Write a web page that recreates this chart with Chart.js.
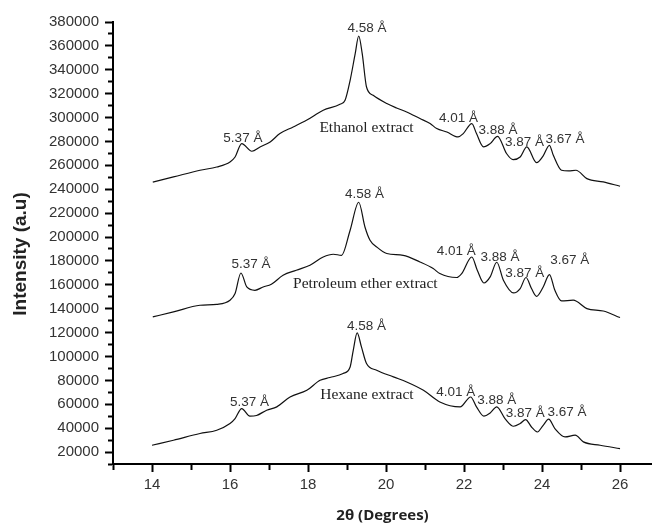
<!DOCTYPE html>
<html>
<head>
<meta charset="utf-8">
<script src="https://cdn.jsdelivr.net/npm/chart.js@4/dist/chart.umd.min.js"></script>
<style>
  html, body { margin: 0; padding: 0; background: #fff; }
  canvas { display: block; }
</style>
</head>
<body>
<canvas id="xrdChart" width="652" height="525"></canvas>
<script>
// 2θ positions and intensities
const ethanolTheta = [14.02, 14.55, 15.23, 15.66, 16.00, 16.13, 16.30, 16.56, 16.77, 17.03, 17.28, 17.62, 17.96, 18.39, 18.82, 18.95, 19.08, 19.21, 19.30, 19.39, 19.50, 19.67, 20.02, 20.27, 20.53, 20.87, 21.13, 21.30, 21.56, 21.85, 21.98, 22.20, 22.32, 22.50, 22.67, 22.86, 23.09, 23.26, 23.44, 23.61, 23.86, 24.03, 24.19, 24.29, 24.50, 24.68, 24.87, 25.15, 25.57, 26.00]
const ethanolIntensity = [246000, 250300, 255900, 258600, 262800, 267000, 278200, 271800, 275400, 279600, 286600, 292100, 297700, 306100, 311100, 314500, 331200, 353500, 368300, 353500, 325600, 318600, 311700, 308000, 304700, 299200, 295000, 290800, 287900, 283800, 286600, 295000, 286600, 275400, 278200, 284300, 269900, 264800, 267000, 275400, 262200, 268000, 276800, 268400, 255900, 255300, 255900, 248900, 246100, 242500]

const petroleumTheta = [14.02, 14.55, 15.23, 15.66, 16.00, 16.13, 16.28, 16.43, 16.64, 16.85, 17.06, 17.36, 17.70, 18.05, 18.39, 18.65, 18.86, 19.08, 19.30, 19.46, 19.59, 19.76, 20.02, 20.44, 20.87, 21.21, 21.38, 21.81, 21.94, 22.20, 22.34, 22.51, 22.67, 22.84, 23.01, 23.27, 23.44, 23.59, 23.73, 23.86, 24.03, 24.19, 24.33, 24.50, 24.80, 25.15, 25.57, 26.00]
const petroleumIntensity = [133100, 137300, 142900, 143700, 147100, 152700, 169900, 158200, 155400, 158200, 160500, 168000, 172200, 176400, 183300, 185600, 184700, 205700, 229100, 208400, 197300, 191700, 186200, 184700, 179100, 173600, 169400, 166100, 169400, 183300, 172200, 161500, 166600, 178900, 163800, 153200, 156900, 166100, 156900, 150400, 158200, 168600, 155400, 146500, 147100, 140100, 138100, 132600]

const hexaneTheta = [14.00, 14.55, 15.23, 15.66, 16.00, 16.13, 16.30, 16.51, 16.68, 16.94, 17.20, 17.54, 17.97, 18.31, 18.56, 18.90, 19.08, 19.16, 19.26, 19.37, 19.50, 19.76, 20.19, 20.53, 20.96, 21.38, 21.90, 22.17, 22.32, 22.51, 22.67, 22.84, 23.05, 23.27, 23.44, 23.58, 23.73, 23.88, 24.03, 24.17, 24.33, 24.59, 24.85, 25.06, 25.49, 26.00]
const hexaneIntensity = [25700, 29900, 35500, 38300, 43900, 48000, 56400, 50000, 50600, 55000, 57800, 66100, 71700, 80100, 82400, 85700, 91200, 105200, 119700, 108000, 94100, 88500, 82900, 78700, 71700, 61900, 57800, 66100, 57800, 50000, 52700, 57800, 48000, 41600, 43900, 47200, 41000, 36800, 42400, 47500, 39700, 32700, 34100, 28500, 25700, 22900]

// d-spacing labels: [text, 2θ, intensity]
const peakLabels = [
    ['5.37 Å', 16.33, 282700], ['4.58 Å', 19.51, 374400], ['4.01 Å', 21.86, 299200],
    ['3.88 Å', 22.87, 289400], ['3.87 Å', 23.55, 279600], ['3.67 Å', 24.59, 281600],
    ['5.37 Å', 16.54, 176900], ['4.58 Å', 19.45, 235500], ['4.01 Å', 21.80, 188300],
    ['3.88 Å', 22.92, 182800], ['3.87 Å', 23.56, 169400], ['3.67 Å', 24.71, 180500],
    ['5.37 Å', 16.50, 62000], ['4.58 Å', 19.50, 125600], ['4.01 Å', 21.79, 70300],
    ['3.88 Å', 22.84, 63700], ['3.87 Å', 23.57, 52700], ['3.67 Å', 24.64, 53600]
]

const extractLabels = [
    ['Ethanol extract', 19.50, 291000],
    ['Petroleum ether extract', 19.47, 161000],
    ['Hexane extract', 19.51, 67600]
]

const toPoints = (theta, intensity) => theta.map((t, i) => ({ x: t, y: intensity[i] }))

const lineStyle = {
    borderColor: '#111',
    borderWidth: 1.2,
    pointRadius: 0,
    fill: false,
    cubicInterpolationMode: 'monotone'
}

const annotationPlugin = {
    id: 'annotations',
    afterDatasetsDraw(chart) {
        const { ctx, scales: { x, y } } = chart
        ctx.save()
        ctx.textAlign = 'center'
        ctx.textBaseline = 'middle'

        ctx.fillStyle = '#333'
        ctx.font = '13.5px "Liberation Sans", Arial, sans-serif'
        peakLabels.forEach(([text, t, v]) => ctx.fillText(text, x.getPixelForValue(t), y.getPixelForValue(v)))

        ctx.fillStyle = '#222'
        ctx.font = '15.5px "Liberation Serif", "Times New Roman", serif'
        extractLabels.forEach(([text, t, v]) => ctx.fillText(text, x.getPixelForValue(t), y.getPixelForValue(v)))

        // y axis title
        ctx.translate(21, 254)
        ctx.rotate(-Math.PI / 2)
        ctx.fillStyle = '#222'
        ctx.font = 'bold 19px "Liberation Sans", Arial, sans-serif'
        ctx.fillText('Intensity (a.u)', 0, 0)
        ctx.restore()
    }
}

const tickFont = { family: '"Liberation Sans", Arial, sans-serif', size: 15 }

new Chart('xrdChart', {
    type: 'line',
    data: {
        datasets: [
            { label: 'Ethanol extract', data: toPoints(ethanolTheta, ethanolIntensity), ...lineStyle },
            { label: 'Petroleum ether extract', data: toPoints(petroleumTheta, petroleumIntensity), ...lineStyle },
            { label: 'Hexane extract', data: toPoints(hexaneTheta, hexaneIntensity), ...lineStyle }
        ]
    },
    options: {
        responsive: false,
        animation: false,
        layout: { padding: { top: 22, right: 0, bottom: 0, left: 0 } },
        plugins: {
            legend: { display: false },
            tooltip: { enabled: false }
        },
        scales: {
            x: {
                type: 'linear',
                min: 13,
                max: 26.82,
                ticks: {
                    stepSize: 1,
                    includeBounds: false,
                    autoSkip: false,
                    maxRotation: 0,
                    padding: 4,
                    color: '#333',
                    font: tickFont,
                    callback: v => v % 2 === 0 ? v : ''
                },
                grid: {
                    drawOnChartArea: false,
                    tickLength: 8,
                    tickWidth: 2,
                    tickColor: '#000',
                    tickBorderDash: c => c.tick && c.tick.value % 2 !== 0 ? [5, 20] : []
                },
                border: { color: '#000', width: 2 },
                title: {
                    display: true,
                    text: '2θ (Degrees)',
                    color: '#222',
                    font: { family: '"Open Sans", sans-serif', size: 15, weight: 'bold' },
                    padding: { top: 0, bottom: 0 }
                },
                afterFit: scale => { scale.height = 61 }
            },
            y: {
                min: 10000,
                max: 380000,
                ticks: {
                    stepSize: 10000,
                    includeBounds: false,
                    autoSkip: false,
                    padding: 6,
                    color: '#333',
                    font: tickFont,
                    callback: v => v % 20000 === 0 ? v : ''
                },
                grid: {
                    drawOnChartArea: false,
                    tickLength: 8,
                    tickWidth: 2,
                    tickColor: '#000',
                    tickBorderDash: c => c.tick && c.tick.value % 20000 !== 0 ? [0, 3, 5, 20] : []
                },
                border: { color: '#000', width: 2 },
                afterFit: scale => { scale.width = 113 }
            }
        }
    },
    plugins: [annotationPlugin]
})
</script>
</body>
</html>
